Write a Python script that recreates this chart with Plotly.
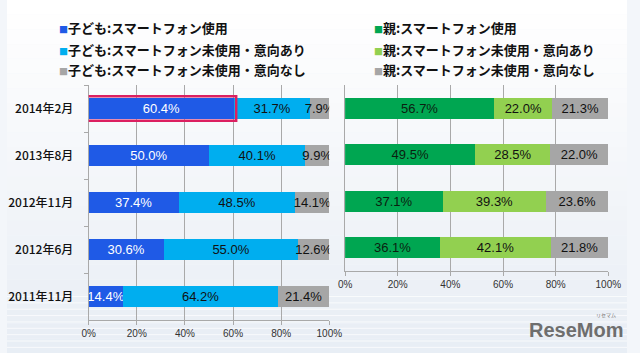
import plotly.graph_objects as go

# ---- data ----
child_periods = ["2014年2月", "2013年8月", "2012年11月", "2012年6月", "2011年11月"]
child_use = [60.4, 50.0, 37.4, 30.6, 14.4]
child_want = [31.7, 40.1, 48.5, 55.0, 64.2]
child_nowant = [7.9, 9.9, 14.1, 12.6, 21.4]

parent_periods = ["2014年2月", "2013年8月", "2012年11月", "2012年6月"]
parent_use = [56.7, 49.5, 37.1, 36.1]
parent_want = [22.0, 28.5, 39.3, 42.1]
parent_nowant = [21.3, 22.0, 23.6, 21.8]

child_names = ["子ども:スマートフォン使用", "子ども:スマートフォン未使用・意向あり", "子ども:スマートフォン未使用・意向なし"]
parent_names = ["親:スマートフォン使用", "親:スマートフォン未使用・意向あり", "親:スマートフォン未使用・意向なし"]

x_ticks = [0, 20, 40, 60, 80, 100]
x_tick_labels = ["0%", "20%", "40%", "60%", "80%", "100%"]

child_colors = ["#1f5ae6", "#00aeef", "#a6a6a6"]
parent_colors = ["#00a651", "#92d050", "#a6a6a6"]
text_colors = ["white", "#111111", "#111111"]
parent_text_colors = ["#0b1f10", "#111111", "#111111"]

LABEL_FONT = "Liberation Sans Narrow, Liberation Sans, Arial, sans-serif"
JP_FONT = "Noto Sans CJK JP, sans-serif"

fig = go.Figure()

for vals, name, col, tc in zip([child_use, child_want, child_nowant], child_names, child_colors, text_colors):
    fig.add_trace(go.Bar(
        y=child_periods, x=vals, name=name, orientation="h",
        marker=dict(color=col, line=dict(width=0)),
        text=[f"{v:.1f}%" for v in vals], texttemplate="%{text}",
        textposition="inside", insidetextanchor="middle", textangle=0,
        textfont=dict(family=LABEL_FONT, size=13, color=tc),
        xaxis="x", yaxis="y", showlegend=False,
    ))

for vals, name, col, tc in zip([parent_use, parent_want, parent_nowant], parent_names, parent_colors, parent_text_colors):
    fig.add_trace(go.Bar(
        y=parent_periods, x=vals, name=name, orientation="h",
        marker=dict(color=col, line=dict(width=0)),
        text=[f"{v:.1f}%" for v in vals], texttemplate="%{text}",
        textposition="inside", insidetextanchor="middle", textangle=0,
        textfont=dict(family=LABEL_FONT, size=13, color=tc),
        xaxis="x2", yaxis="y2", showlegend=False,
    ))

W, H = 640, 353

def px_x(p):
    return p / W

def px_y(p):
    return (H - p) / H

axis_common = dict(
    range=[0, 100], tickvals=x_ticks, ticktext=x_tick_labels,
    showgrid=True, gridcolor="#a9a9a9", gridwidth=1,
    showline=True, linecolor="#a9a9a9", linewidth=1,
    ticks="outside", ticklen=4, tickcolor="#a9a9a9",
    tickfont=dict(family=LABEL_FONT, size=10, color="#333333"),
    zeroline=False, fixedrange=True,
)

fig.update_layout(
    width=W, height=H,
    margin=dict(l=0, r=0, t=0, b=0),
    paper_bgcolor="#f3f6fa",
    plot_bgcolor="rgba(0,0,0,0)",
    barmode="stack", barnorm="percent", bargap=0.55,
    xaxis=dict(domain=[px_x(84.3), px_x(332.7)], anchor="y", **axis_common),
    xaxis2=dict(domain=[px_x(349), px_x(620.7)], anchor="y2", **axis_common),
    yaxis=dict(
        domain=[px_y(320), px_y(85)], type="category",
        categoryorder="array", categoryarray=child_periods, autorange="reversed",
        anchor="x", showline=True, linecolor="#a9a9a9", linewidth=1,
        ticks="outside", tickson="boundaries", ticklen=4, tickcolor="#a9a9a9",
        tickfont=dict(family=JP_FONT, size=12, color="#111111", weight=500),
        ticklabelstandoff=12, showgrid=False,
    ),
    yaxis2=dict(
        domain=[px_y(271), px_y(85)], type="category",
        categoryorder="array", categoryarray=parent_periods, autorange="reversed",
        anchor="x2", showline=True, linecolor="#a9a9a9", linewidth=1,
        showticklabels=False, ticks="", showgrid=False,
    ),
    showlegend=False,
)

# background gradient bands (decorative)
shapes = []
n = 24
for i in range(n):
    t = i / (n - 1)
    r = int(255 - (255 - 232) * t)
    g = int(255 - (255 - 238) * t)
    b = int(255 - (255 - 245) * t)
    shapes.append(dict(type="rect", xref="paper", yref="paper",
                       x0=0, x1=1, y0=1 - (i + 1) / n, y1=1 - i / n,
                       fillcolor=f"rgb({r},{g},{b})", line=dict(width=0), layer="below"))
for k in range(9):
    yy = 0.16 - k * 0.018
    shapes.append(dict(type="line", xref="paper", yref="paper", x0=0, x1=1, y0=yy, y1=yy,
                       line=dict(color="rgba(255,255,255,0.7)", width=1), layer="below"))

# highlight frame around the newest child-use bar
shapes.append(dict(type="rect", xref="x", yref="y", x0=-1.3, x1=61.3, y0=-0.26, y1=0.26,
                   line=dict(color="#dc2060", width=2.5), fillcolor="rgba(0,0,0,0)", layer="above"))
fig.update_layout(shapes=shapes)

# legends as annotations
annotations = []
legend_y = [27.5, 49, 70]
for names, cols, x0 in [(child_names, child_colors, 52), (parent_names, parent_colors, 377)]:
    for nm, c, yy in zip(names, cols, legend_y):
        annotations.append(dict(
            xref="paper", yref="paper", x=px_x(x0), y=px_y(yy),
            xanchor="left", yanchor="middle", showarrow=False,
            text=f"<span style='color:{c};font-size:9px'>■</span><b>{nm}</b>",
            font=dict(family=JP_FONT, size=13, color="#111111"),
        ))

# logo
annotations.append(dict(xref="paper", yref="paper", x=px_x(638), y=px_y(330),
                        xanchor="right", yanchor="middle", showarrow=False,
                        text="<b>ReseMom</b>",
                        font=dict(family="Liberation Sans, Arial, sans-serif", size=20, color="#6e6e6e")))
annotations.append(dict(xref="paper", yref="paper", x=px_x(618), y=px_y(315),
                        xanchor="center", yanchor="middle", showarrow=False,
                        text="リセマム",
                        font=dict(family=JP_FONT, size=5, color="#6e6e6e")))
fig.update_layout(annotations=annotations)

fig.update_layout(uniformtext=dict(minsize=13, mode="show"))

fig.write_html("out.html")
